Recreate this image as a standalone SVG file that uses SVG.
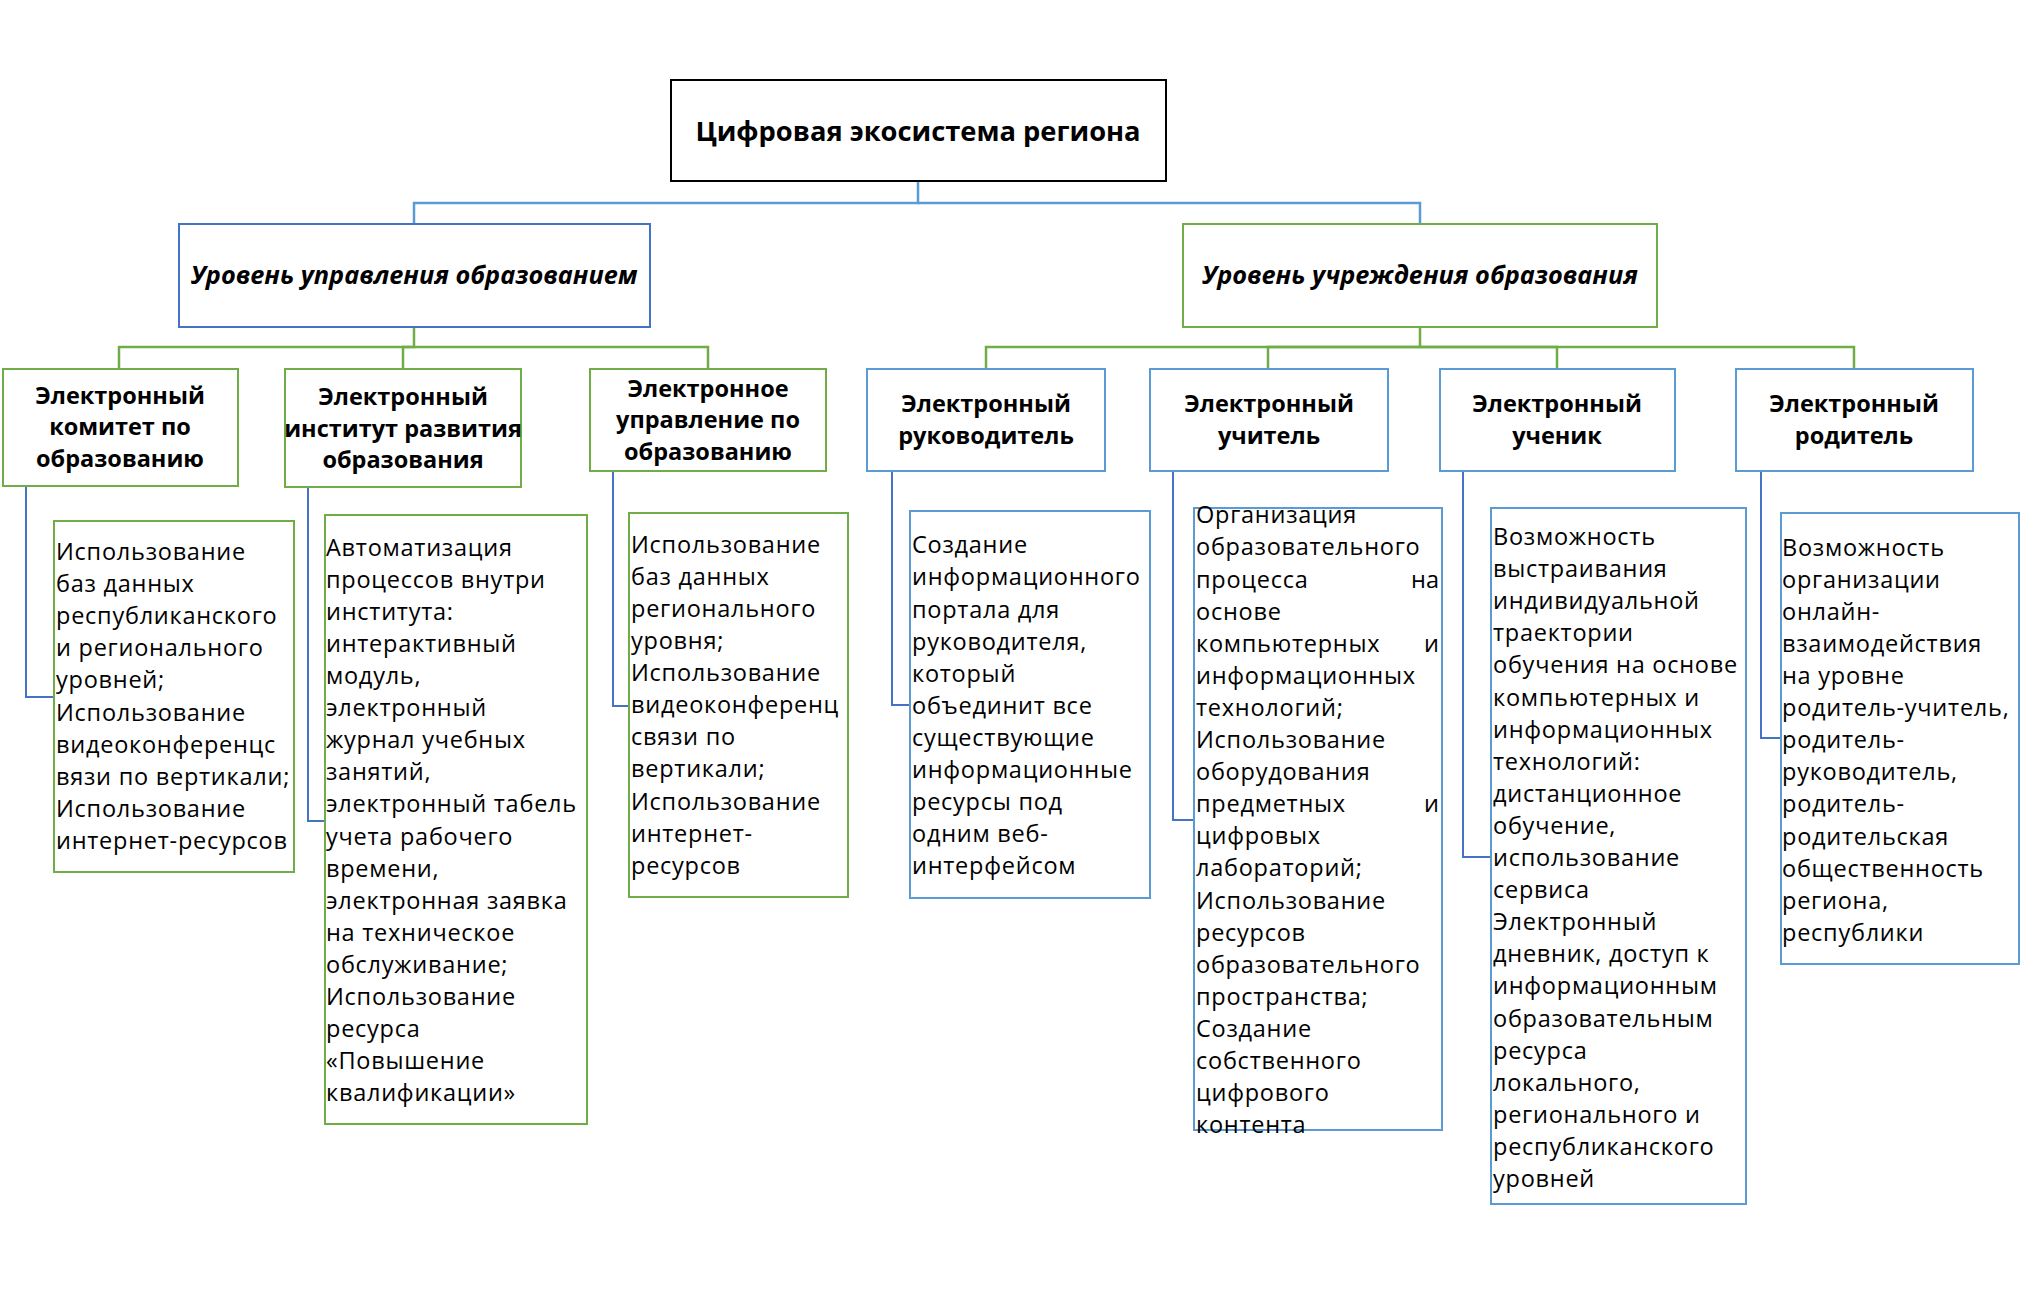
<svg xmlns="http://www.w3.org/2000/svg" width="2036" height="1290" viewBox="0 0 2036 1290">
<style>
.bg{fill:#ffffff}
.root{fill:#ffffff;stroke:#000000;stroke-width:2}
.bdark{fill:#ffffff;stroke:#4472C4;stroke-width:2}
.blight{fill:#ffffff;stroke:#5B9BD5;stroke-width:2}
.green{fill:#ffffff;stroke:#70AD47;stroke-width:2}
.cb{fill:none;stroke:#5B9BD5;stroke-width:2.5}
.cg{fill:none;stroke:#70AD47;stroke-width:2.5}
.ce{fill:none;stroke:#4472C4;stroke-width:2}
text{font-family:"Open Sans","Noto Sans","DejaVu Sans",sans-serif;fill:#000000}
.t0{font-size:27.3px;font-weight:bold;text-anchor:middle}
.t1{font-size:25.3px;font-weight:bold;font-style:italic;text-anchor:middle}
.t2{font-size:23.5px;font-weight:bold;text-anchor:middle}
.tb{font-size:23.5px;letter-spacing:0.75px}
.tr{font-size:23.5px;text-anchor:end}
</style>
<rect class="bg" x="0" y="0" width="2036" height="1290"/>

<g id="connectors">
  <path class="cb" d="M918,181 V203 H414 V224"/>
  <path class="cb" d="M918,203 H1420 V224"/>
  <path class="cg" d="M414,327 V347 H119 V369"/>
  <path class="cg" d="M414,347 H403 V369"/>
  <path class="cg" d="M414,347 H708 V369"/>
  <path class="cg" d="M1420,327 V347 H986 V369"/>
  <path class="cg" d="M1420,347 H1268 V369"/>
  <path class="cg" d="M1420,347 H1557 V369"/>
  <path class="cg" d="M1420,347 H1854 V369"/>
  <path class="ce" d="M26,486 V697 H54"/>
  <path class="ce" d="M308,487 V821 H325"/>
  <path class="ce" d="M613,471 V706 H629"/>
  <path class="ce" d="M892,471 V705 H910"/>
  <path class="ce" d="M1173,471 V820 H1194"/>
  <path class="ce" d="M1463,471 V857 H1491"/>
  <path class="ce" d="M1761,471 V738 H1781"/>
</g>

<g id="root">
  <rect class="root" x="671" y="80" width="495" height="101"/>
  <text class="t0" x="918" y="141">Цифровая экосистема региона</text>
</g>

<g id="level-management">
  <rect class="bdark" x="179" y="224" width="471" height="103"/>
  <text class="t1" x="414" y="283.5">Уровень управления образованием</text>
</g>

<g id="level-institution">
  <rect class="green" x="1183" y="224" width="474" height="103"/>
  <text class="t1" x="1420" y="283.5">Уровень учреждения образования</text>
</g>

<g id="e-committee">
  <rect class="green" x="3" y="369" width="235" height="117"/>
  <text class="t2" x="120" y="403.5">Электронный<tspan x="120" dy="31.5">комитет по</tspan><tspan x="120" dy="31.5">образованию</tspan></text>
</g>

<g id="e-institute">
  <rect class="green" x="285" y="369" width="236" height="118"/>
  <text class="t2" x="403" y="405">Электронный<tspan x="403" dy="31.5">институт развития</tspan><tspan x="403" dy="31.5">образования</tspan></text>
</g>

<g id="e-management">
  <rect class="green" x="590" y="369" width="236" height="102"/>
  <text class="t2" x="708" y="396.5">Электронное<tspan x="708" dy="31.5">управление по</tspan><tspan x="708" dy="31.5">образованию</tspan></text>
</g>

<g id="e-head">
  <rect class="blight" x="867" y="369" width="238" height="102"/>
  <text class="t2" x="986" y="412">Электронный<tspan x="986" dy="32">руководитель</tspan></text>
</g>

<g id="e-teacher">
  <rect class="blight" x="1150" y="369" width="238" height="102"/>
  <text class="t2" x="1269" y="412">Электронный<tspan x="1269" dy="32">учитель</tspan></text>
</g>

<g id="e-student">
  <rect class="blight" x="1440" y="369" width="235" height="102"/>
  <text class="t2" x="1557" y="412">Электронный<tspan x="1557" dy="32">ученик</tspan></text>
</g>

<g id="e-parent">
  <rect class="blight" x="1736" y="369" width="237" height="102"/>
  <text class="t2" x="1854" y="412">Электронный<tspan x="1854" dy="32">родитель</tspan></text>
</g>

<g id="d-committee">
  <rect class="green" x="54" y="521" width="240" height="351"/>
  <text class="tb" x="56" y="560">Использование<tspan x="56" dy="32.1">баз данных</tspan><tspan x="56" dy="32.1">республиканского</tspan><tspan x="56" dy="32.1">и регионального</tspan><tspan x="56" dy="32.1">уровней;</tspan><tspan x="56" dy="32.1">Использование</tspan><tspan x="56" dy="32.1">видеоконференцс</tspan><tspan x="56" dy="32.1">вязи по вертикали;</tspan><tspan x="56" dy="32.1">Использование</tspan><tspan x="56" dy="32.1">интернет-ресурсов</tspan></text>
</g>

<g id="d-institute">
  <rect class="green" x="325" y="515" width="262" height="609"/>
  <text class="tb" x="326" y="555.6">Автоматизация<tspan x="326" dy="32.1">процессов внутри</tspan><tspan x="326" dy="32.1">института:</tspan><tspan x="326" dy="32.1">интерактивный</tspan><tspan x="326" dy="32.1">модуль,</tspan><tspan x="326" dy="32.1">электронный</tspan><tspan x="326" dy="32.1">журнал учебных</tspan><tspan x="326" dy="32.1">занятий,</tspan><tspan x="326" dy="32.1">электронный табель</tspan><tspan x="326" dy="32.1">учета рабочего</tspan><tspan x="326" dy="32.1">времени,</tspan><tspan x="326" dy="32.1">электронная заявка</tspan><tspan x="326" dy="32.1">на техническое</tspan><tspan x="326" dy="32.1">обслуживание;</tspan><tspan x="326" dy="32.1">Использование</tspan><tspan x="326" dy="32.1">ресурса</tspan><tspan x="326" dy="32.1">«Повышение</tspan><tspan x="326" dy="32.1">квалификации»</tspan></text>
</g>

<g id="d-management">
  <rect class="green" x="629" y="513" width="219" height="384"/>
  <text class="tb" x="631" y="552.7">Использование<tspan x="631" dy="32.1">баз данных</tspan><tspan x="631" dy="32.1">регионального</tspan><tspan x="631" dy="32.1">уровня;</tspan><tspan x="631" dy="32.1">Использование</tspan><tspan x="631" dy="32.1">видеоконференц</tspan><tspan x="631" dy="32.1">связи по</tspan><tspan x="631" dy="32.1">вертикали;</tspan><tspan x="631" dy="32.1">Использование</tspan><tspan x="631" dy="32.1">интернет-</tspan><tspan x="631" dy="32.1">ресурсов</tspan></text>
</g>

<g id="d-head">
  <rect class="blight" x="910" y="511" width="240" height="387"/>
  <text class="tb" x="912" y="553.3">Создание<tspan x="912" dy="32.1">информационного</tspan><tspan x="912" dy="32.1">портала для</tspan><tspan x="912" dy="32.1">руководителя,</tspan><tspan x="912" dy="32.1">который</tspan><tspan x="912" dy="32.1">объединит все</tspan><tspan x="912" dy="32.1">существующие</tspan><tspan x="912" dy="32.1">информационные</tspan><tspan x="912" dy="32.1">ресурсы под</tspan><tspan x="912" dy="32.1">одним веб-</tspan><tspan x="912" dy="32.1">интерфейсом</tspan></text>
</g>

<g id="d-teacher">
  <rect class="blight" x="1194" y="508" width="248" height="622"/>
  <text class="tb" x="1196" y="523.3">Организация<tspan x="1196" dy="32.1">образовательного</tspan><tspan x="1196" dy="32.1">процесса</tspan><tspan x="1196" dy="32.1">основе</tspan><tspan x="1196" dy="32.1">компьютерных</tspan><tspan x="1196" dy="32.1">информационных</tspan><tspan x="1196" dy="32.1">технологий;</tspan><tspan x="1196" dy="32.1">Использование</tspan><tspan x="1196" dy="32.1">оборудования</tspan><tspan x="1196" dy="32.1">предметных</tspan><tspan x="1196" dy="32.1">цифровых</tspan><tspan x="1196" dy="32.1">лабораторий;</tspan><tspan x="1196" dy="32.1">Использование</tspan><tspan x="1196" dy="32.1">ресурсов</tspan><tspan x="1196" dy="32.1">образовательного</tspan><tspan x="1196" dy="32.1">пространства;</tspan><tspan x="1196" dy="32.1">Создание</tspan><tspan x="1196" dy="32.1">собственного</tspan><tspan x="1196" dy="32.1">цифрового</tspan><tspan x="1196" dy="32.1">контента</tspan></text>
  <text class="tr" x="1439" y="587.5">на</text>
  <text class="tr" x="1439" y="651.7">и</text>
  <text class="tr" x="1439" y="812.2">и</text>
</g>

<g id="d-student">
  <rect class="blight" x="1491" y="508" width="255" height="696"/>
  <text class="tb" x="1493" y="545">Возможность<tspan x="1493" dy="32.1">выстраивания</tspan><tspan x="1493" dy="32.1">индивидуальной</tspan><tspan x="1493" dy="32.1">траектории</tspan><tspan x="1493" dy="32.1">обучения на основе</tspan><tspan x="1493" dy="32.1">компьютерных и</tspan><tspan x="1493" dy="32.1">информационных</tspan><tspan x="1493" dy="32.1">технологий:</tspan><tspan x="1493" dy="32.1">дистанционное</tspan><tspan x="1493" dy="32.1">обучение,</tspan><tspan x="1493" dy="32.1">использование</tspan><tspan x="1493" dy="32.1">сервиса</tspan><tspan x="1493" dy="32.1">Электронный</tspan><tspan x="1493" dy="32.1">дневник, доступ к</tspan><tspan x="1493" dy="32.1">информационным</tspan><tspan x="1493" dy="32.1">образовательным</tspan><tspan x="1493" dy="32.1">ресурса</tspan><tspan x="1493" dy="32.1">локального,</tspan><tspan x="1493" dy="32.1">регионального и</tspan><tspan x="1493" dy="32.1">республиканского</tspan><tspan x="1493" dy="32.1">уровней</tspan></text>
</g>

<g id="d-parent">
  <rect class="blight" x="1781" y="513" width="238" height="451"/>
  <text class="tb" x="1782" y="555.6">Возможность<tspan x="1782" dy="32.1">организации</tspan><tspan x="1782" dy="32.1">онлайн-</tspan><tspan x="1782" dy="32.1">взаимодействия</tspan><tspan x="1782" dy="32.1">на уровне</tspan><tspan x="1782" dy="32.1">родитель-учитель,</tspan><tspan x="1782" dy="32.1">родитель-</tspan><tspan x="1782" dy="32.1">руководитель,</tspan><tspan x="1782" dy="32.1">родитель-</tspan><tspan x="1782" dy="32.1">родительская</tspan><tspan x="1782" dy="32.1">общественность</tspan><tspan x="1782" dy="32.1">региона,</tspan><tspan x="1782" dy="32.1">республики</tspan></text>
</g>
</svg>
